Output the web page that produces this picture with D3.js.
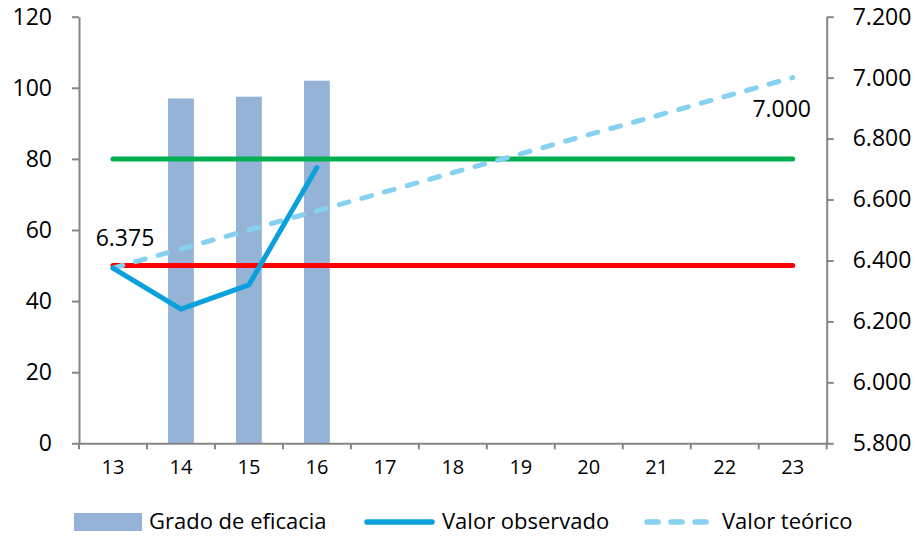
<!DOCTYPE html>
<html>
<head>
<meta charset="utf-8">
<script src="https://cdn.jsdelivr.net/npm/d3@7"></script>
<style>
  body { margin: 0; background: #fff; }
  svg, svg .axis { font-family: "Open Sans", sans-serif; }
  .axis path, .axis line { stroke: #868686; stroke-width: 2; }
  .axis text { fill: #000; }
</style>
</head>
<body>
<div id="chart"></div>
<script>
let width = 917,
    height = 536,
    margin = ({ top: 17, right: 91, bottom: 93, left: 79 });

// data
const weeks = ["13", "14", "15", "16", "17", "18", "19", "20", "21", "22", "23"];
const eficacia = [null, 97, 97.5, 102, null, null, null, null, null, null, null];
const observado = [6375, 6240, 6320, 6705];
const teorico = [6375, 6438, 6500, 6563, 6625, 6688, 6750, 6813, 6875, 6938, 7000];
const limiteAlto = [80, 80, 80, 80, 80, 80, 80, 80, 80, 80, 80];
const limiteBajo = [50, 50, 50, 50, 50, 50, 50, 50, 50, 50, 50];
const leftTicks = [0, 20, 40, 60, 80, 100, 120];
const rightTicks = [5800, 6000, 6200, 6400, 6600, 6800, 7000, 7200];

const es = d3.formatLocale({ decimal: ",", thousands: ".", grouping: [3], currency: ["", "€"] });
const fmt = es.format(",d");

const svg = d3.select("#chart")
  .append("svg")
  .attr("width", width)
  .attr("height", height);

let x = d3.scaleBand()
  .domain(weeks)
  .range([margin.left, width - margin.right + 0.7])
  .padding(0);

let y = d3.scaleLinear()
  .domain([0, 120])
  .range([height - margin.bottom + 0.3, margin.top - 0.3]);

let y2 = d3.scaleLinear()
  .domain([5800, 7200])
  .range([height - margin.bottom + 0.3, margin.top - 0.3]);

let cx = w => x(w) + x.bandwidth() / 2;

// bars
let barW = x.bandwidth() * 0.38;
svg.append("g")
  .selectAll("rect")
  .data(weeks.map((w, i) => ({ w, v: eficacia[i] })).filter(d => d.v != null))
  .join("rect")
  .attr("x", d => cx(d.w) - barW / 2)
  .attr("width", barW)
  .attr("y", d => y(d.v))
  .attr("height", d => y(0) - y(d.v))
  .attr("fill", "#95B3D7");

// axes
svg.append("g")
  .attr("class", "axis")
  .attr("transform", `translate(${margin.left},0)`)
  .call(d3.axisLeft(y).tickValues(leftTicks).tickSize(7).tickPadding(20).tickSizeOuter(0))
  .selectAll("text").style("font-size", "23px");

svg.append("g")
  .attr("class", "axis")
  .attr("transform", `translate(${x.range()[1]},0)`)
  .call(d3.axisRight(y2).tickValues(rightTicks).tickSize(7).tickPadding(19).tickSizeOuter(0).tickFormat(fmt))
  .selectAll("text").style("font-size", "23px");

let xAxis = svg.append("g")
  .attr("class", "axis")
  .attr("transform", `translate(0,${y(0)})`)
  .call(d3.axisBottom(x).tickSize(0).tickPadding(17).tickSizeOuter(0));
xAxis.selectAll("text").style("font-size", "20px");
// ticks sit between categories
xAxis.selectAll(".sep")
  .data(weeks.concat(["end"]))
  .join("line")
  .attr("class", "sep")
  .attr("x1", (d, i) => x.range()[0] + i * x.bandwidth())
  .attr("x2", (d, i) => x.range()[0] + i * x.bandwidth())
  .attr("y1", 0)
  .attr("y2", 6);

// reference lines on left axis
let lineL = d3.line()
  .x((d, i) => cx(weeks[i]))
  .y(d => y(d));

svg.append("path")
  .datum(limiteAlto)
  .attr("fill", "none")
  .attr("stroke", "#00B050")
  .attr("stroke-width", 5)
  .attr("stroke-linecap", "round")
  .attr("d", lineL);

svg.append("path")
  .datum(limiteBajo)
  .attr("fill", "none")
  .attr("stroke", "#FF0000")
  .attr("stroke-width", 5)
  .attr("stroke-linecap", "round")
  .attr("d", lineL);

// right axis lines
let lineR = d3.line()
  .x((d, i) => cx(weeks[i]))
  .y(d => y2(d));

svg.append("path")
  .datum(teorico)
  .attr("fill", "none")
  .attr("stroke", "#86D0F0")
  .attr("stroke-width", 5)
  .attr("stroke-dasharray", "10,13.5")
  .attr("stroke-linecap", "round")
  .attr("d", lineR);

svg.append("path")
  .datum(observado)
  .attr("fill", "none")
  .attr("stroke", "#0AA0DC")
  .attr("stroke-width", 5)
  .attr("stroke-linejoin", "round")
  .attr("stroke-linecap", "round")
  .attr("d", lineR);

// data labels
svg.append("text")
  .attr("x", cx(weeks[0]) + 12)
  .attr("y", y2(teorico[0]) - 22)
  .attr("text-anchor", "middle")
  .style("font-size", "23px")
  .text(fmt(teorico[0]));

let last = teorico.length - 1;
svg.append("text")
  .attr("x", cx(weeks[last]) - 11)
  .attr("y", y2(teorico[last]) + 39)
  .attr("text-anchor", "middle")
  .style("font-size", "23px")
  .text(fmt(teorico[last]));

// legend
let lg = svg.append("g").style("font-size", "22px");
let ly = 522;

lg.append("rect")
  .attr("x", 74).attr("y", ly - 9).attr("width", 68).attr("height", 18)
  .attr("fill", "#95B3D7");
lg.append("text").attr("x", 149).attr("y", ly + 7).text("Grado de eficacia");

lg.append("line")
  .attr("x1", 367).attr("x2", 432).attr("y1", ly).attr("y2", ly)
  .attr("stroke", "#0AA0DC").attr("stroke-width", 5.5).attr("stroke-linecap", "round");
lg.append("text").attr("x", 442).attr("y", ly + 7).text("Valor observado");

lg.append("line")
  .attr("x1", 647).attr("x2", 710).attr("y1", ly).attr("y2", ly)
  .attr("stroke", "#86D0F0").attr("stroke-width", 5.5)
  .attr("stroke-dasharray", "11,13").attr("stroke-linecap", "round");
lg.append("text").attr("x", 722).attr("y", ly + 7).text("Valor teórico");
</script>
</body>
</html>
